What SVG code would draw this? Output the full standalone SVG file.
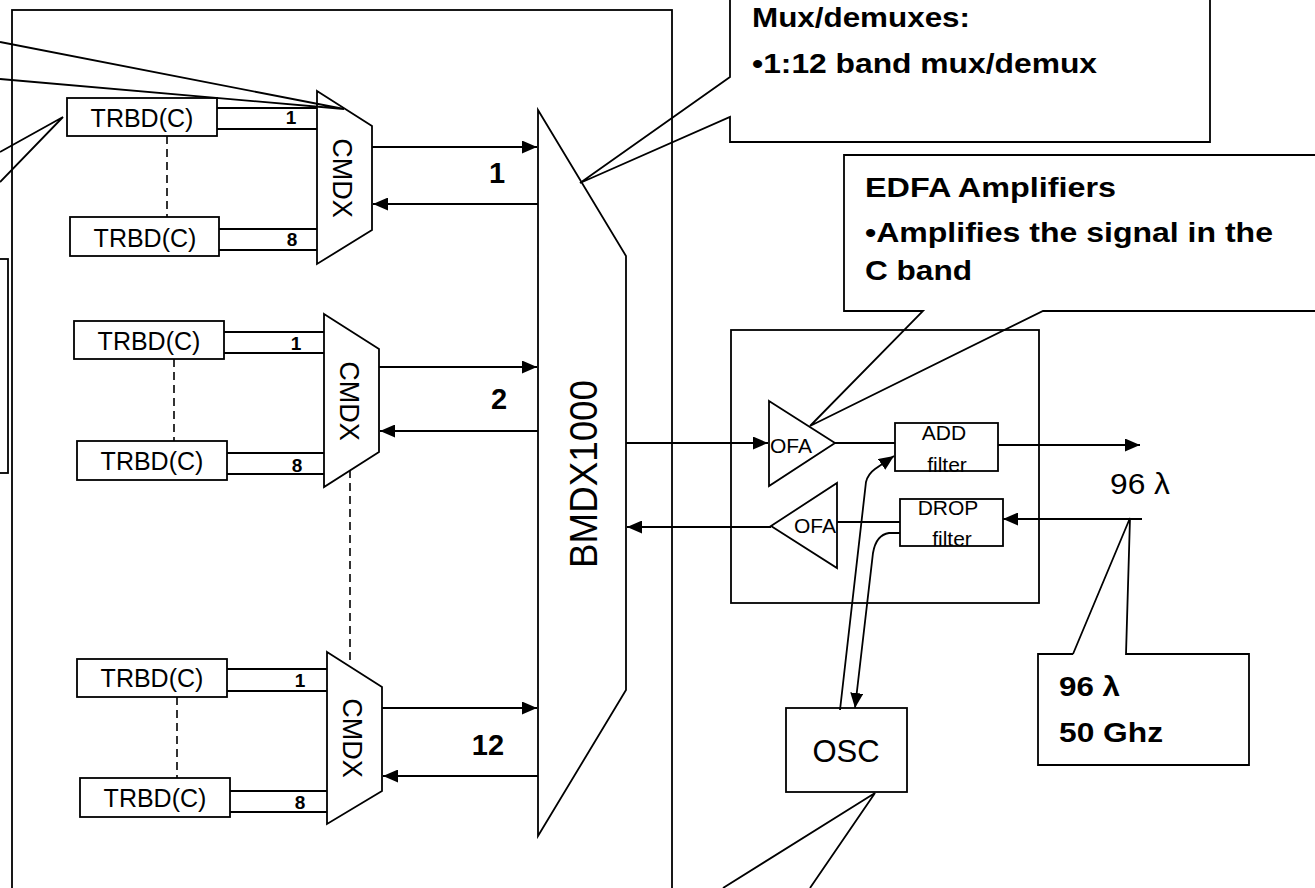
<svg xmlns="http://www.w3.org/2000/svg" width="1315" height="888" viewBox="0 0 1315 888">
<style>
.s{fill:none;stroke:#000;stroke-width:1.8}
.d{fill:none;stroke:#000;stroke-width:1.6;stroke-dasharray:8 5}
.a{fill:none;stroke:#000;stroke-width:1.8;marker-end:url(#ah)}
.t{font-family:"Liberation Sans",Arial,sans-serif;fill:#000}
.b{font-weight:bold}
.tr{font-size:25px;text-anchor:middle}
.n{font-size:19px;font-weight:bold;text-anchor:middle}
.cm{font-size:27px;text-anchor:middle}
.sm{font-size:21px;text-anchor:middle}
.co{font-size:28px;font-weight:bold}
</style>
<defs>
<marker id="ah" markerUnits="userSpaceOnUse" markerWidth="15" markerHeight="13" refX="15" refY="6.5" orient="auto">
<path d="M0,0 L15,6.5 L0,13 z" fill="#000"/>
</marker>
</defs>
<rect width="1315" height="888" fill="#fff"/>

<g id="frame">
<rect class="s" x="12" y="10" width="660" height="900"/>
<rect class="s" x="-10" y="259" width="18" height="214"/>
</g>

<g id="group1">
<g id="trbd1a"><rect class="s" x="67" y="98" width="150" height="38"/><text class="t tr" x="142" y="127">TRBD(C)</text></g>
<g id="trbd1b"><rect class="s" x="70" y="217" width="149" height="39"/><text class="t tr" x="145" y="247">TRBD(C)</text></g>
<g id="cmdx1"><polygon class="s" points="317,91 372,126 372,230 317,264"/><text class="t cm" transform="translate(333,178) rotate(90)">CMDX</text></g>
</g>

<g id="group2">
<g id="trbd2a"><rect class="s" x="74" y="321" width="150" height="38"/><text class="t tr" x="149" y="350">TRBD(C)</text></g>
<g id="trbd2b"><rect class="s" x="77" y="441" width="150" height="39"/><text class="t tr" x="152" y="470">TRBD(C)</text></g>
<g id="cmdx2"><polygon class="s" points="324,314 379,349 379,452 324,487"/><text class="t cm" transform="translate(340,401) rotate(90)">CMDX</text></g>
</g>

<g id="group3">
<g id="trbd3a"><rect class="s" x="77" y="659" width="150" height="38"/><text class="t tr" x="152" y="687">TRBD(C)</text></g>
<g id="trbd3b"><rect class="s" x="80" y="778" width="150" height="39"/><text class="t tr" x="155" y="807">TRBD(C)</text></g>
<g id="cmdx3"><polygon class="s" points="327,652 382,687 382,791 327,824"/><text class="t cm" transform="translate(343,738) rotate(90)">CMDX</text></g>
</g>

<g id="bmdx">
<polygon class="s" points="538,110 626,256 626,690 538,836"/>
<text class="t" font-size="38" text-anchor="middle" textLength="188" lengthAdjust="spacingAndGlyphs" transform="translate(597,474) rotate(-90)">BMDX1000</text>
</g>

<g id="amp">
<rect class="s" x="731" y="330" width="308" height="273"/>
<g id="ofa1"><polygon class="s" points="769,401 835,443 769,486"/><text class="t sm" x="791" y="453">OFA</text></g>
<g id="ofa2"><polygon class="s" points="771,526 837,483 837,568"/><text class="t sm" x="815" y="533">OFA</text></g>
<g id="add"><rect class="s" x="895" y="423" width="103" height="48"/><text class="t sm" x="944" y="440">ADD</text><text class="t sm" x="947" y="472">filter</text></g>
<g id="drop"><rect class="s" x="900" y="499" width="103" height="47"/><text class="t sm" x="948" y="515">DROP</text><text class="t sm" x="952" y="546">filter</text></g>
</g>

<g id="osc"><rect class="s" x="786" y="708" width="121" height="84"/><text class="t" font-size="31" text-anchor="middle" x="846" y="762">OSC</text></g>

<g id="connectors">
<line class="s" x1="217" y1="108" x2="317" y2="108"/>
<line class="s" x1="217" y1="129" x2="317" y2="129"/>
<line class="s" x1="219" y1="229" x2="317" y2="229"/>
<line class="s" x1="219" y1="250" x2="317" y2="250"/>
<line class="d" x1="167" y1="136" x2="167" y2="217"/>
<line class="s" x1="224" y1="332" x2="324" y2="332"/>
<line class="s" x1="224" y1="353" x2="324" y2="353"/>
<line class="s" x1="227" y1="453" x2="324" y2="453"/>
<line class="s" x1="227" y1="474" x2="324" y2="474"/>
<line class="d" x1="174" y1="359" x2="174" y2="441"/>
<line class="s" x1="227" y1="669" x2="327" y2="669"/>
<line class="s" x1="227" y1="691" x2="327" y2="691"/>
<line class="s" x1="230" y1="791" x2="327" y2="791"/>
<line class="s" x1="230" y1="812" x2="327" y2="812"/>
<line class="d" x1="177" y1="697" x2="177" y2="778"/>
<line class="d" x1="350" y1="470" x2="350" y2="665"/>
<line class="a" x1="372" y1="147" x2="537" y2="147"/>
<line class="a" x1="538" y1="204" x2="373" y2="204"/>
<line class="a" x1="379" y1="367" x2="537" y2="367"/>
<line class="a" x1="538" y1="431" x2="380" y2="431"/>
<line class="a" x1="382" y1="708" x2="537" y2="708"/>
<line class="a" x1="538" y1="776" x2="383" y2="776"/>
<line class="a" x1="626" y1="443" x2="768" y2="443"/>
<line class="a" x1="771" y1="527" x2="627" y2="527"/>
<line class="s" x1="835" y1="443" x2="895" y2="443"/>
<line class="a" x1="998" y1="445" x2="1140" y2="445"/>
<line class="a" x1="1142" y1="519" x2="1003" y2="519"/>
<line class="s" x1="900" y1="522" x2="837" y2="522"/>
<path class="a" d="M840,710 L866,482 Q868,474 875,469 L894,456"/>
<path class="a" d="M900,533 L889,533 Q876,535 873,553 L855,708"/>
</g>

<g id="labels">
<text class="t n" x="291" y="124">1</text>
<text class="t n" x="292" y="246">8</text>
<text class="t n" x="296" y="350">1</text>
<text class="t n" x="297" y="472">8</text>
<text class="t n" x="300" y="687">1</text>
<text class="t n" x="300" y="809">8</text>
<text class="t b" font-size="29" text-anchor="middle" x="497" y="183">1</text>
<text class="t b" font-size="29" text-anchor="middle" x="499" y="409">2</text>
<text class="t b" font-size="29" text-anchor="middle" x="488" y="755">12</text>
<text class="t" font-size="29" x="1110" y="494" textLength="60" lengthAdjust="spacingAndGlyphs">96 λ</text>
</g>

<g id="callout-topleft">
<polyline class="s" points="0,42 344,109 0,79"/>
<polyline class="s" points="0,152 63,117 0,182"/>
</g>

<g id="callout-mux">
<polyline class="s" points="730,-5 730,77 580,183 730,117 730,142 1210,142 1210,-5"/>
<text class="t co" x="752" y="27" textLength="218" lengthAdjust="spacingAndGlyphs">Mux/demuxes:</text>
<text class="t co" x="752" y="73" textLength="345" lengthAdjust="spacingAndGlyphs">•1:12 band mux/demux</text>
</g>

<g id="callout-edfa">
<polyline class="s" points="1320,155 844,155 844,311 923,311 810,426 1043,311 1320,311"/>
<text class="t co" x="865" y="197" textLength="251" lengthAdjust="spacingAndGlyphs">EDFA Amplifiers</text>
<text class="t co" x="865" y="242" textLength="408" lengthAdjust="spacingAndGlyphs">•Amplifies the signal in the</text>
<text class="t co" x="865" y="280" textLength="107" lengthAdjust="spacingAndGlyphs">C band</text>
</g>

<g id="callout-96">
<polyline class="s" points="1073,654 1130,518 1126,654 1249,654 1249,765 1038,765 1038,654 1073,654"/>
<text class="t co" x="1059" y="696" textLength="61" lengthAdjust="spacingAndGlyphs">96 λ</text>
<text class="t co" x="1059" y="742" textLength="104" lengthAdjust="spacingAndGlyphs">50 Ghz</text>
</g>

<g id="callout-osc">
<polyline class="s" points="723,888 875,793 810,888"/>
</g>
</svg>
